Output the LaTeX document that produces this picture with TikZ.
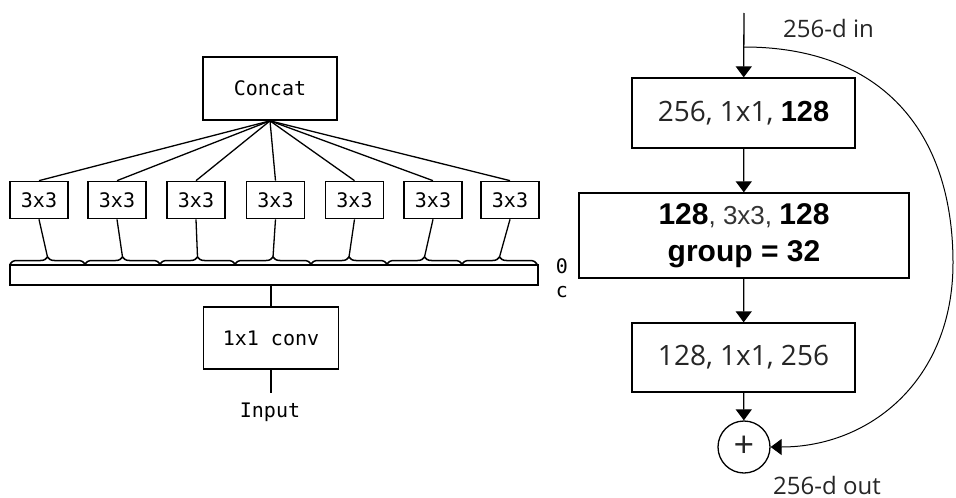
\documentclass[tikz,border=0pt]{standalone}
\usepackage{fontspec}
\setmainfont{Open Sans}
\newfontfamily\monof{DejaVu Sans Mono}
\newfontfamily\arialf{Liberation Sans}
\usetikzlibrary{arrows.meta,decorations.pathreplacing}
\begin{document}
\begin{tikzpicture}[x=1pt,y=-1pt,
  lbox/.style={draw, line width=1.7pt, inner sep=0pt, font=\monof\fontsize{20}{23}\selectfont},
  monotext/.style={inner sep=0pt, font=\monof\fontsize{20}{23}\selectfont},
  lline/.style={line width=1.3pt},
  bracestyle/.style={line width=1.5pt, decorate, decoration={brace, amplitude=7pt}},
  rbox/.style={draw, line width=1.3pt, inner sep=0pt, align=center, font=\fontsize{28}{34}\selectfont, text=black!85},
  rarr/.style={line width=1.3pt, -{Triangle[width=16pt,length=11pt]}},
  skiparr/.style={line width=1pt, -{Triangle[width=16pt,length=11pt]}},
  lab/.style={inner sep=0pt, anchor=west, font=\fontsize{24}{28}\selectfont, text=black!85}
]
\useasboundingbox (0,0) rectangle (956,498);
\fill[white] (0,0) rectangle (956,498);

% ---- left: Inception-style block ----
\node[lbox, minimum width=134pt, minimum height=63pt] (concat) at (270,88.5) {Concat};
\foreach \i/\x in {1/39,2/117,3/196,4/275.5,5/354.5,6/433,7/510}{
  \node[lbox, minimum width=58pt, minimum height=37pt] (k\i) at (\x,200) {3x3};
  \draw[lline] (concat.south) -- (k\i.north);
}
\foreach \i/\a/\b in {1/10/85,2/85/160,3/160/235,4/235/311,5/311/387,6/387/462,7/462/537}{
  \draw[bracestyle] (\a,264) -- (\b,264);
  \coordinate (t\i) at ({(\a+\b)/2},257);
  \draw[lline] (k\i.south) -- (t\i);
}
\node[draw, line width=1.7pt, minimum width=528pt, minimum height=20pt, inner sep=0pt] (bar) at (274,275) {};
\node[lbox, minimum width=135pt, minimum height=62pt] (conv) at (271,338) {1x1 conv};
\draw[lline] (conv.north) -- (conv.north |- bar.south);
\coordinate (inend) at (271,393);
\draw[lline] (conv.south) -- (inend);
\node[monotext, anchor=base] (inp) at (270,417) {Input};
\node[monotext, anchor=base] (zero) at (562,273) {0};
\node[monotext, anchor=base] (cc) at (562,297) {c};

% ---- right: ResNeXt block ----
\coordinate (in) at (744,13);
\coordinate (sk) at (744,47);
\node[rbox, minimum width=223pt, minimum height=70pt] (b1) at (743.5,113)
  {256, 1x1, {\arialf\fontsize{29}{34}\selectfont\bfseries\color{black}128}};
\node[rbox, minimum width=330pt, minimum height=85pt, font=\arialf\fontsize{30}{37}\selectfont, text=black] (b2) at (744,235.5)
  {\textbf{128}{\fontsize{26}{37}\selectfont\color{black!80}, 3x3, }\textbf{128}\\\textbf{group = 32}};
\node[rbox, minimum width=223pt, minimum height=69pt] (b3) at (743.5,357.5) {128, 1x1, 256};
\node[draw, circle, line width=1.3pt, minimum size=52pt, inner sep=0pt, font=\fontsize{36}{40}\selectfont, text=black!85] (plus) at (744,447) {+};
\draw[rarr] (in) -- (b1);
\draw[rarr] (b1) -- (b2);
\draw[rarr] (b2) -- (b3);
\draw[rarr] (b3) -- (plus);
\draw[skiparr] (sk) .. controls (880,47) and (953,130) .. (953,263)
  .. controls (953,380) and (870,447) .. (plus.east);
\node[lab] (lin) at (783,28) {256-d in};
\node[lab] (lout) at (773,485) {256-d out};
\end{tikzpicture}
\end{document}
